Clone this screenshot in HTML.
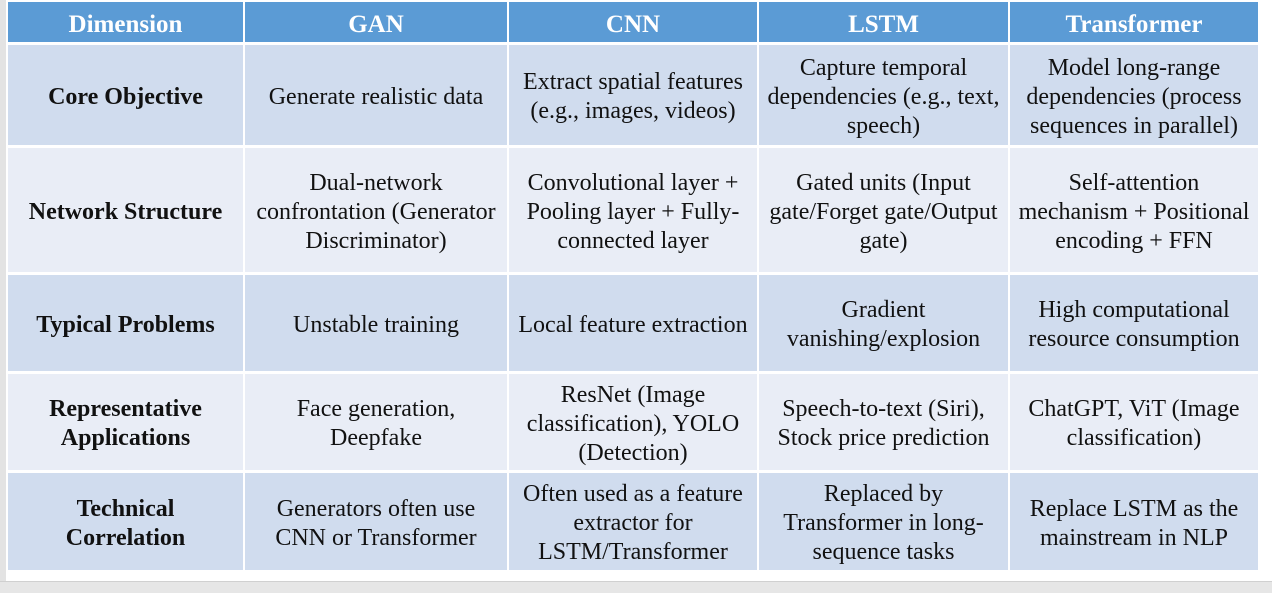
<!DOCTYPE html>
<html><head><style>
body{margin:0;width:1272px;height:592px;background:#fff;position:relative;overflow:hidden;font-family:"Liberation Serif",serif;}
.c{position:absolute;display:flex;align-items:center;justify-content:center;text-align:center;font-size:24px;line-height:29px;color:#111;white-space:nowrap;box-sizing:border-box;padding-top:4px;}
.h{background:#5b9bd5;color:#fff;font-weight:bold;font-size:25px;}
.o{background:#d0dcee;}
.e{background:#e9edf6;}
.b{font-weight:bold;}
</style></head><body>
<div style="position:absolute;left:0;top:0;width:6px;height:592px;background:#e3e3e3"></div>
<div style="position:absolute;left:0;top:581px;width:1272px;height:11px;background:#e6e6e6;border-top:1px solid #d0d0d0"></div>

<div class="c h" style="left:8px;top:2px;width:235px;height:40px">Dimension</div>
<div class="c h" style="left:245px;top:2px;width:262px;height:40px">GAN</div>
<div class="c h" style="left:509px;top:2px;width:248px;height:40px">CNN</div>
<div class="c h" style="left:759px;top:2px;width:249px;height:40px">LSTM</div>
<div class="c h" style="left:1010px;top:2px;width:248px;height:40px">Transformer</div>

<div class="c o b" style="left:8px;top:45px;width:235px;height:100px">Core Objective</div>
<div class="c o" style="left:245px;top:45px;width:262px;height:100px">Generate realistic data</div>
<div class="c o" style="left:509px;top:45px;width:248px;height:100px">Extract spatial features<br>(e.g., images, videos)</div>
<div class="c o" style="left:759px;top:45px;width:249px;height:100px">Capture temporal<br>dependencies (e.g., text,<br>speech)</div>
<div class="c o" style="left:1010px;top:45px;width:248px;height:100px">Model long-range<br>dependencies (process<br>sequences in parallel)</div>

<div class="c e b" style="left:8px;top:148px;width:235px;height:124px">Network Structure</div>
<div class="c e" style="left:245px;top:148px;width:262px;height:124px">Dual-network<br>confrontation (Generator<br>Discriminator)</div>
<div class="c e" style="left:509px;top:148px;width:248px;height:124px">Convolutional layer +<br>Pooling layer + Fully-<br>connected layer</div>
<div class="c e" style="left:759px;top:148px;width:249px;height:124px">Gated units (Input<br>gate/Forget gate/Output<br>gate)</div>
<div class="c e" style="left:1010px;top:148px;width:248px;height:124px">Self-attention<br>mechanism + Positional<br>encoding + FFN</div>

<div class="c o b" style="left:8px;top:275px;width:235px;height:96px">Typical Problems</div>
<div class="c o" style="left:245px;top:275px;width:262px;height:96px">Unstable training</div>
<div class="c o" style="left:509px;top:275px;width:248px;height:96px">Local feature extraction</div>
<div class="c o" style="left:759px;top:275px;width:249px;height:96px">Gradient<br>vanishing/explosion</div>
<div class="c o" style="left:1010px;top:275px;width:248px;height:96px">High computational<br>resource consumption</div>

<div class="c e b" style="left:8px;top:374px;width:235px;height:96px">Representative<br>Applications</div>
<div class="c e" style="left:245px;top:374px;width:262px;height:96px">Face generation,<br>Deepfake</div>
<div class="c e" style="left:509px;top:374px;width:248px;height:96px">ResNet (Image<br>classification), YOLO<br>(Detection)</div>
<div class="c e" style="left:759px;top:374px;width:249px;height:96px">Speech-to-text (Siri),<br>Stock price prediction</div>
<div class="c e" style="left:1010px;top:374px;width:248px;height:96px">ChatGPT, ViT (Image<br>classification)</div>

<div class="c o b" style="left:8px;top:473px;width:235px;height:97px">Technical<br>Correlation</div>
<div class="c o" style="left:245px;top:473px;width:262px;height:97px">Generators often use<br>CNN or Transformer</div>
<div class="c o" style="left:509px;top:473px;width:248px;height:97px">Often used as a feature<br>extractor for<br>LSTM/Transformer</div>
<div class="c o" style="left:759px;top:473px;width:249px;height:97px">Replaced by<br>Transformer in long-<br>sequence tasks</div>
<div class="c o" style="left:1010px;top:473px;width:248px;height:97px">Replace LSTM as the<br>mainstream in NLP</div>
</body></html>
